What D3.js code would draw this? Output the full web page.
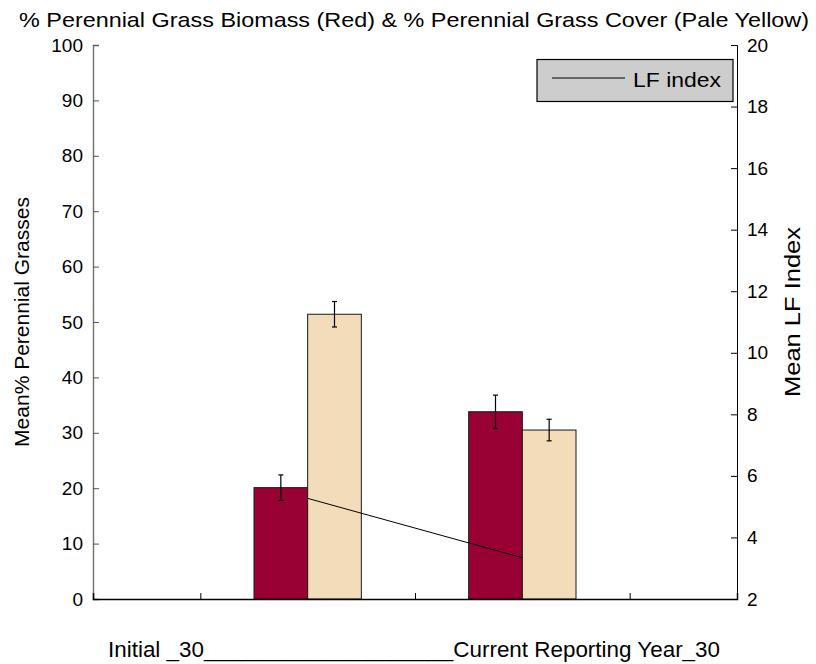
<!DOCTYPE html>
<html><head><meta charset="utf-8">
<script src="https://cdn.jsdelivr.net/npm/d3@7"></script>
<style>body{margin:0;background:#fff;} svg{display:block;font-family:"Liberation Sans",Arial,sans-serif;}</style>
</head><body>
<svg id="c" width="816" height="664"></svg>
<script>
const groups = [1, 2];
const biomass = [20.1, 33.8];
const biomassErr = [2.3, 3.0];
const cover = [51.4, 30.5];
const coverErr = [2.3, 1.95];
const lfIndex = [5.27, 3.34];
const leftTicks = [0,10,20,30,40,50,60,70,80,90,100];
const rightTicks = [2,4,6,8,10,12,14,16,18,20];
const xTicks = [0.5, 1.5, 2.5];

const svg = d3.select("#c");
const L = 93, R = 737, T = 45, B = 599;
const x = d3.scaleLinear().domain([0,3]).range([L,R]);
const y = d3.scaleLinear().domain([0,100]).range([B,T]);
const y2 = d3.scaleLinear().domain([2,20]).range([B,T]);
const bw = 0.25;

// bars
const g = svg.append("g");
g.selectAll("rect.bio").data(groups).enter().append("rect")
  .attr("x", d => x(d - bw)).attr("width", (x(bw)-x(0)))
  .attr("y", (d,i) => y(biomass[i])).attr("height", (d,i) => y(0)-y(biomass[i]))
  .attr("fill", "#990033").attr("stroke", "#1a1a1a").attr("stroke-width", 1);
g.selectAll("rect.cov").data(groups).enter().append("rect")
  .attr("x", d => x(d)).attr("width", (x(bw)-x(0)))
  .attr("y", (d,i) => y(cover[i])).attr("height", (d,i) => y(0)-y(cover[i]))
  .attr("fill", "#F2DCB9").attr("stroke", "#1a1a1a").attr("stroke-width", 1);

// error bars
function err(vals, errs, off) {
  groups.forEach((d,i) => {
    const cx = x(d + off);
    const t = y(vals[i]+errs[i]), b = y(vals[i]-errs[i]);
    g.append("line").attr("x1",cx).attr("x2",cx).attr("y1",t).attr("y2",b).attr("stroke","#000").attr("stroke-width",1.2);
    g.append("line").attr("x1",cx-2.5).attr("x2",cx+2.5).attr("y1",t).attr("y2",t).attr("stroke","#000").attr("stroke-width",1.2);
    g.append("line").attr("x1",cx-2.5).attr("x2",cx+2.5).attr("y1",b).attr("y2",b).attr("stroke","#000").attr("stroke-width",1.2);
  });
}
err(biomass, biomassErr, -bw/2);
err(cover, coverErr, bw/2);

// LF line
svg.append("path").datum(groups.map((d,i)=>[x(d), y2(lfIndex[i])]))
  .attr("d", d3.line()).attr("fill","none").attr("stroke","#000").attr("stroke-width",1);

// axes
const fs = "19px";
const ax = svg.append("g").attr("transform",`translate(${L},0)`)
  .call(d3.axisLeft(y).tickValues(leftTicks).tickSize(-6).tickPadding(10));
ax.select(".domain").attr("stroke","#777").attr("stroke-width",1.5);
ax.selectAll(".tick line").attr("stroke","#555");
ax.selectAll("text").attr("font-size",fs).attr("fill","#000").attr("font-family","Liberation Sans, Arial, sans-serif");

const ar = svg.append("g").attr("transform",`translate(${R},0)`)
  .call(d3.axisRight(y2).tickValues(rightTicks).tickSize(-6).tickPadding(10));
ar.select(".domain").attr("stroke","#000").attr("stroke-width",1);
ar.selectAll("text").attr("font-size",fs).attr("fill","#000").attr("font-family","Liberation Sans, Arial, sans-serif");

const ab = svg.append("g").attr("transform",`translate(0,${B})`)
  .call(d3.axisBottom(x).tickValues(xTicks).tickSize(-6).tickFormat(""));
ab.select(".domain").attr("stroke","#000").attr("stroke-width",1.5);

// legend
const lg = svg.append("g");
lg.append("rect").attr("x",537).attr("y",59.5).attr("width",196).attr("height",42)
  .attr("fill","#cdcdcd").attr("stroke","#000").attr("stroke-width",1.2);
lg.append("line").attr("x1",552).attr("x2",625).attr("y1",78).attr("y2",78).attr("stroke","#000");
lg.append("text").attr("x",633).attr("y",87).attr("font-size","20px")
  .attr("textLength",88).attr("lengthAdjust","spacingAndGlyphs").text("LF index");

// titles
svg.append("text").attr("x",414).attr("y",27).attr("text-anchor","middle").attr("font-size","21px")
  .attr("textLength",790).attr("lengthAdjust","spacingAndGlyphs")
  .text("% Perennial Grass Biomass (Red) & % Perennial Grass Cover (Pale Yellow)");
svg.append("text").attr("transform","translate(29,322) rotate(-90)").attr("text-anchor","middle").attr("font-size","21px")
  .text("Mean% Perennial Grasses");
svg.append("text").attr("transform","translate(800,312) rotate(-90)").attr("text-anchor","middle").attr("font-size","22px")
  .attr("textLength",170).attr("lengthAdjust","spacingAndGlyphs")
  .text("Mean LF Index");
svg.append("text").attr("x",414).attr("y",657).attr("text-anchor","middle").attr("font-size","22px")
  .attr("textLength",612).attr("lengthAdjust","spacingAndGlyphs")
  .text("Initial _30____________________Current Reporting Year_30");
</script>
</body></html>
